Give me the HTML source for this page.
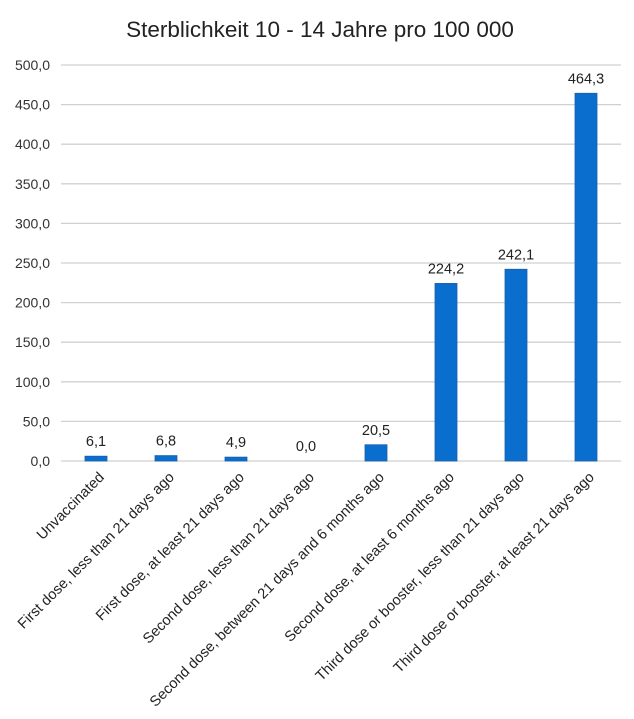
<!DOCTYPE html>
<html><head><meta charset="utf-8">
<style>
body{margin:0;background:#fff;}
svg{display:block;font-family:"Liberation Sans",sans-serif;}
</style></head>
<body>
<svg id="chart" width="634" height="719" viewBox="0 0 634 719">
<rect width="634" height="719" fill="#fff"/>
<text x="320" y="37" text-anchor="middle" font-size="22.5" fill="#222">Sterblichkeit 10 - 14 Jahre pro 100 000</text>
<g id="grid"></g><g id="bars"></g><g id="labels"></g>
</svg>
<script>
const categories=["Unvaccinated","First dose, less than 21 days ago","First dose, at least 21 days ago","Second dose, less than 21 days ago","Second dose, between 21 days and 6 months ago","Second dose, at least 6 months ago","Third dose or booster, less than 21 days ago","Third dose or booster, at least 21 days ago"];
const values=[6.1,6.8,4.9,0.0,20.5,224.2,242.1,464.3];
const valueLabels=["6,1","6,8","4,9","0,0","20,5","224,2","242,1","464,3"];
const yTicks=[0,50,100,150,200,250,300,350,400,450,500];
const yTickLabels=["0,0","50,0","100,0","150,0","200,0","250,0","300,0","350,0","400,0","450,0","500,0"];
const NS="http://www.w3.org/2000/svg";
const left=61,right=621,y0=461,y1=65,yMax=500;
const y=v=>y0-(v/yMax)*(y0-y1);
const step=(right-left)/categories.length;
const xc=i=>left+step*(i+0.5);
function mk(tag,attrs,parent){const e=document.createElementNS(NS,tag);for(const k in attrs)e.setAttribute(k,attrs[k]);parent.appendChild(e);return e;}
const grid=document.getElementById('grid'),bars=document.getElementById('bars'),labels=document.getElementById('labels');
yTicks.forEach((t,i)=>{
  const l=mk('line',{x1:left,x2:right,y1:y(t),y2:y(t),stroke:"#d0d0d0","stroke-width":1.3},grid);
  
  
  const tx=mk('text',{x:50,y:y(t)+5,"text-anchor":"end","font-size":14,fill:"#333"},grid);
  tx.textContent=yTickLabels[i];
  
  
});
values.forEach((v,i)=>{
  const r=mk('rect',{x:xc(i)-11,y:y(v),width:22,height:Math.max(0,y0-y(v)),fill:"#0a6ecf",stroke:"#1b5ea8","stroke-width":0.8},bars);
  
  
  const t=mk('text',{x:xc(i),y:y(v)-10,"text-anchor":"middle","font-size":14.5,fill:"#222"},labels);
  t.textContent=valueLabels[i];
  
  
  const c=mk('text',{x:0,y:0,"text-anchor":"end","font-size":14.6,fill:"#222",transform:`translate(${xc(i)+9},${y0+17}) rotate(-45)`},labels);
  c.textContent=categories[i];
  
  
});
</script>
</body></html>
